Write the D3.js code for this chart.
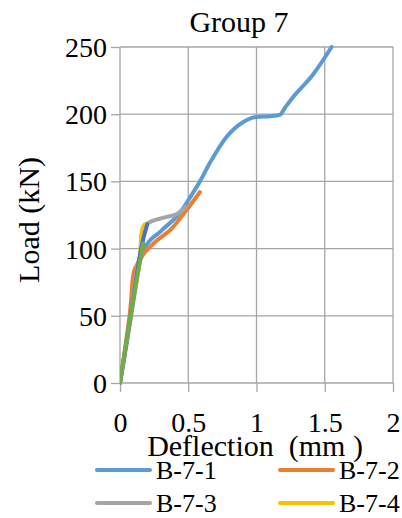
<!DOCTYPE html>
<html>
<head>
<meta charset="utf-8">
<script src="https://cdn.jsdelivr.net/npm/d3@7"></script>
</head>
<body style="margin:0">
<script>

// series names and colours
var seriesNames = ["B-7-1", "B-7-2", "B-7-3", "B-7-4", "B-7-5", "B-7-6"];
var seriesColors = ["#5b9bd5", "#ed7d31", "#a5a5a5", "#ffc000", "#4472c4", "#70ad47"];

// deflection (mm) and load (kN)
var defl1 = [0, 0.05, 0.1, 0.15, 0.18, 0.3, 0.45, 0.5, 0.58, 0.66, 0.78, 0.9, 1.0, 1.1, 1.17, 1.21, 1.27, 1.41, 1.55];
var load1 = [0, 30, 62, 92, 100, 113, 128, 136, 149, 164, 183, 194, 198, 198.5, 199.5, 205, 213, 229, 250];
var defl2 = [0, 0.05, 0.08, 0.09, 0.1, 0.12, 0.18, 0.27, 0.37, 0.49, 0.585];
var load2 = [0, 35, 60, 74, 82, 87, 97, 106, 114, 129, 142];
var defl3 = [0, 0.07, 0.13, 0.15, 0.155, 0.17, 0.205, 0.32, 0.42, 0.48];
var load3 = [0, 45, 88, 97, 108, 116, 119, 123, 126, 131];
var defl4 = [0, 0.1, 0.15, 0.16, 0.18];
var load4 = [0, 65, 98, 112, 118];
var defl5 = [0, 0.1, 0.155, 0.17, 0.2];
var load5 = [0, 65, 100, 107, 118];
var defl6 = [0, 0.085, 0.17];
var load6 = [0, 55, 104];

var xTicks = [0, 0.5, 1, 1.5, 2];
var yTicks = [0, 50, 100, 150, 200, 250];

var width = 402,
    height = 518;
var margin = {top: 47, right: 9, bottom: 135, left: 120};
var gridColor = "#a6a6a6";

var svg = d3.select("body").append("svg")
    .attr("width", width)
    .attr("height", height);

var x = d3.scaleLinear().domain([0, 2]).range([margin.left, width - margin.right]);
var y = d3.scaleLinear().domain([0, 250]).range([height - margin.bottom, margin.top]);

// gridlines
var grid = svg.append("g").attr("stroke", gridColor).attr("stroke-width", 1.3);
grid.selectAll(".h").data(yTicks).enter().append("line")
    .attr("x1", x(0)).attr("x2", x(2))
    .attr("y1", function (d) { return y(d); })
    .attr("y2", function (d) { return y(d); });
grid.selectAll(".v").data(xTicks).enter().append("line")
    .attr("y1", y(0)).attr("y2", y(250))
    .attr("x1", function (d) { return x(d); })
    .attr("x2", function (d) { return x(d); });

// axes
var xAxis = svg.append("g")
    .attr("transform", "translate(0," + y(0) + ")")
    .call(d3.axisBottom(x).tickValues(xTicks).tickSize(9).tickPadding(20).tickFormat(d3.format("")));
var yAxis = svg.append("g")
    .attr("transform", "translate(" + x(0) + ",0)")
    .call(d3.axisLeft(y).tickValues(yTicks).tickSize(9).tickPadding(4));
yAxis.selectAll("text").attr("dy", "0.34em");

[xAxis, yAxis].forEach(function (ax) {
    ax.select(".domain").remove();
    ax.selectAll(".tick line").attr("stroke", gridColor).attr("stroke-width", 1.3);
    ax.selectAll(".tick text")
        .style("font-family", function () { return "Liberation Serif"; })
        .style("font-size", "28px")
        .attr("fill", "#000");
});

// lines
svg.append("clipPath").attr("id", "plot")
    .append("rect")
    .attr("x", x(0)).attr("y", y(250) - 3)
    .attr("width", x(2) - x(0)).attr("height", y(0) - y(250) + 6);

var series = [
    d3.zip(defl1, load1), d3.zip(defl2, load2), d3.zip(defl3, load3),
    d3.zip(defl4, load4), d3.zip(defl5, load5), d3.zip(defl6, load6)
];

var line = d3.line()
    .x(function (d) { return x(d[0]); })
    .y(function (d) { return y(d[1]); })
    .curve(d3.curveMonotoneX);

svg.append("g").attr("clip-path", "url(#plot)")
    .selectAll("path")
    .data(series).enter()
    .append("path")
    .attr("fill", "none")
    .attr("stroke", function (d, i) { return seriesColors[i]; })
    .attr("stroke-width", 4)
    .attr("stroke-linejoin", "round")
    .attr("stroke-linecap", "round")
    .attr("d", line);

// titles
var titles = [
    {t: "Group 7", x: 239, y: 32, r: 0},
    {t: "Load (kN)", x: 39, y: 220, r: -90},
    {t: "Deflection\u00a0 (mm )", x: 255, y: 456, r: 0}
];
svg.selectAll(".title").data(titles).enter().append("text")
    .attr("transform", function (d) { return "translate(" + d.x + "," + d.y + ") rotate(" + d.r + ")"; })
    .attr("text-anchor", "middle")
    .style("font-family", function () { return "Liberation Serif"; })
    .style("font-size", "30px")
    .text(function (d) { return d.t; });

// legend, two columns; only the first two rows fit in the window
var legend = svg.selectAll(".legend")
    .data(seriesNames.slice(0, 4)).enter()
    .append("g")
    .attr("transform", function (d, i) {
        return "translate(" + (i % 2 === 0 ? 97 : 280) + "," + (470 + Math.floor(i / 2) * 33) + ")";
    });
legend.append("line")
    .attr("x1", 0).attr("x2", 53)
    .attr("stroke", function (d, i) { return seriesColors[i]; })
    .attr("stroke-width", 4)
    .attr("stroke-linecap", "round");
legend.append("text")
    .attr("x", 59).attr("dy", "0.34em")
    .style("font-family", function () { return "Liberation Serif"; })
    .style("font-size", "26px")
    .text(function (d) { return d; });

</script>
</body>
</html>
